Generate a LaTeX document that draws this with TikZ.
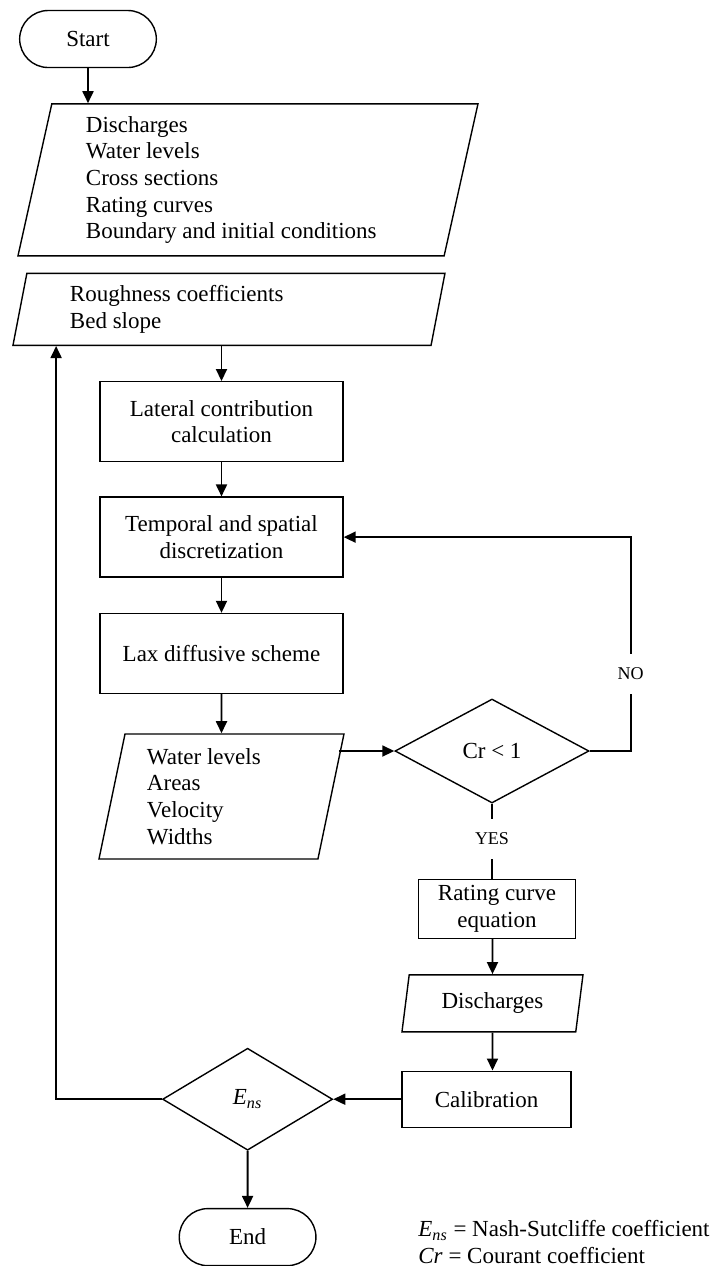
\documentclass[tikz,border=0pt]{standalone}
\usepackage{fontspec}
\setmainfont{Liberation Serif}
\usetikzlibrary{shapes.geometric,shapes.misc,positioning,arrows.meta}

\tikzset{
  term/.style={draw, rounded rectangle, minimum width=75pt, minimum height=28.5pt, line width=0.7pt},
  io/.style={draw, trapezium, trapezium left angle=76, trapezium right angle=104, trapezium stretches body, inner sep=2pt, line width=0.7pt, align=flush left},
  proc/.style={draw, rectangle, minimum width=121.5pt, minimum height=40pt, inner sep=2pt, align=center, line width=0.7pt},
  dec/.style={draw, diamond, inner sep=0pt, line width=0.7pt},
  arr/.style={line width=0.9pt, -{Triangle[length=6pt,width=5.5pt]}},
  line/.style={line width=0.9pt},
  lbl/.style={fill=white, font=\fontsize{9}{10}\selectfont, inner xsep=2pt, inner ysep=7pt}
}

\begin{document}
\begin{tikzpicture}[x=0.5pt, y=-0.5pt, font=\fontsize{11.5}{13.35}\selectfont]
	\useasboundingbox (0,0) rectangle (718,1266);
	\node[term] (start) at (88,39) {Start};
	\node[io, text width=162pt, minimum width=230pt, minimum height=76pt] (in1) [below=17.5pt of start, xshift=80pt] {Discharges\\Water levels\\Cross sections\\Rating curves\\Boundary and initial conditions};
	\node[io, text width=159pt, minimum width=216pt, minimum height=36pt] (in2) [below=8pt of in1, xshift=-9.5pt] {Roughness coefficients\\Bed slope};
	\node[proc] (lat) [below=17.5pt of in2, xshift=-3.75pt] {Lateral contribution\\calculation};
	\node[proc] (temp) [below=17pt of lat] {Temporal and spatial\\discretization};
	\node[proc] (lax) [below=17.5pt of temp] {Lax diffusive scheme};
	\node[io, text width=74.5pt, minimum width=122.5pt, minimum height=62.5pt] (in3) [below=19.5pt of lax] {Water levels\\Areas\\Velocity\\Widths};
	\node[dec, minimum width=97pt, minimum height=52pt] (cr) at (492,751) {Cr < 1};
	\node[proc, minimum width=78.5pt, minimum height=29.5pt] (rate) [below=37.5pt of cr, xshift=2.5pt] {Rating curve\\equation};
	\node[io, align=center, minimum width=90.5pt, minimum height=28.5pt] (disch) [below=17.5pt of rate, xshift=-2.25pt] {Discharges};
	\node[proc, minimum width=84.5pt, minimum height=28pt] (calib) [below=19pt of disch, xshift=-3pt] {Calibration};
	\node[dec, minimum width=85pt, minimum height=51pt] (ens) [left=34pt of calib] {\textit{E}\textsubscript{\textit{ns}}};
	\node[term] (end) [below=28.5pt of ens] {End};
	\node[anchor=west, align=left, inner sep=0pt] (legend) at (418,1242) {\textit{E}\textsubscript{\textit{ns}} = Nash-Sutcliffe coefficient\\\textit{Cr} = Courant coefficient};
	\draw[arr] (start) -- (start |- in1.north);
	\draw[arr] (in2.south -| lat) -- (lat);
	\draw[arr] (lat) -- (temp);
	\draw[arr] (temp) -- (lax);
	\draw[arr] (lax) -- (in3);
	\draw[arr] (in3.top right corner |- cr.west) ++(-3pt,0) -- (cr.west);
	\draw[arr] (cr.east) -- ++(20.5pt,0) |- node[lbl, pos=0.18] {NO} (temp.east);
	\draw[line] (cr.south) -- node[lbl, pos=0.47] {YES} (cr.south |- rate.north);
	\draw[arr] (rate.south -| disch) -- (disch);
	\draw[arr] (disch) -- (disch |- calib.north);
	\draw[arr] (calib) -- (ens);
	\draw[arr] (ens) -- (end);
	\draw[arr] (ens.west) -| ([xshift=22pt]in2.bottom left corner);
\end{tikzpicture}
\end{document}
